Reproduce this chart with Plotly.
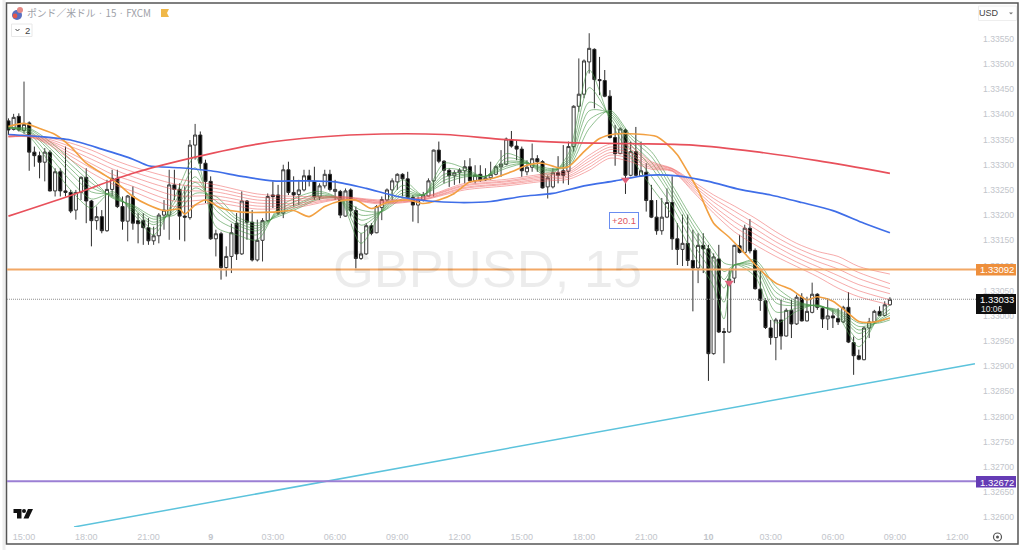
import plotly.graph_objects as go

# Prices are stored as points above 1.33000 (1 point = 0.00001)
BASE = 1.33
POINT = 1e-5

bar_index = list(range(-3, 168))
opens_pts = [387,370,396,368,383,325,318,305,325,248,286,248,245,210,245,275,228,189,197,169,251,273,217,188,237,189,189,175,149,159,200,200,260,251,198,195,339,359,303,267,153,163,96,118,184,123,228,186,111,150,189,240,240,204,290,245,241,250,278,267,236,258,281,247,247,
198,250,209,114,123,179,165,215,230,250,266,281,272,235,220,230,238,268,329,307,289,278,284,288,296,268,281,270,274,281,296,301,350,337,331,286,295,312,306,256,256,284,288,287,336,416,440,504,529,469,467,436,354,322,369,279,326,278,
285,229,196,169,196,225,153,132,144,110,95,140,133,-75,113,-31,-32,75,139,126,174,130,53,30,-24,-43,-8,-40,11,-16,37,-10,7,43,15,-6,0,-5,-12,17,-53,-79,-87,-24,-12,9,1,22]
highs_pts = [392,401,402,465,386,336,326,333,329,293,293,336,250,250,277,293,230,217,210,270,290,290,237,240,257,204,204,194,177,204,230,290,290,263,257,349,381,366,310,277,171,167,138,183,204,247,230,210,191,194,243,267,260,300,306,277,270,290,290,296,263,290,290,270,250,
253,253,217,164,184,184,220,237,253,273,283,283,286,240,237,246,273,330,346,309,293,289,293,309,313,299,299,293,306,299,329,354,367,349,336,309,342,319,309,279,293,317,339,346,418,511,509,561,531,514,488,448,379,374,372,346,375,346,
303,260,230,234,253,277,184,201,201,171,164,164,141,124,141,-24,91,141,161,181,192,134,91,35,-8,-4,32,15,32,42,45,38,66,45,19,35,12,15,20,47,-41,-67,-21,-4,12,19,29,37]
lows_pts = [359,368,366,362,288,296,273,267,247,237,237,237,204,191,230,184,138,171,164,167,237,214,171,148,171,144,141,141,141,144,171,151,230,151,148,191,310,290,224,151,118,72,78,85,111,121,151,108,108,108,187,214,200,194,240,217,220,247,257,230,230,253,247,230,194,
197,197,94,111,121,160,164,190,227,230,250,237,233,187,184,227,237,237,303,263,256,260,263,263,264,263,266,268,270,279,276,299,334,309,276,279,286,286,253,233,253,263,263,260,326,405,432,481,412,438,434,352,298,321,242,277,277,276,
207,194,161,161,194,131,101,99,99,9,65,85,-129,-77,-34,-94,-34,65,124,124,124,52,10,-26,-57,-88,-67,-41,-44,-18,-11,-11,5,12,-24,-28,-24,-18,-14,-54,-117,-88,-88,-44,-14,-1,-1,20]
closes_pts = [369,394,369,380,325,318,305,325,248,286,248,245,208,245,275,228,189,197,169,251,273,217,188,238,184,183,175,149,159,200,210,260,251,198,196,339,359,303,267,153,163,96,118,165,123,228,186,111,150,189,237,237,204,290,245,240,250,278,268,236,258,281,251,251,200,
248,209,114,123,179,164,217,231,250,268,281,272,235,220,230,240,268,329,307,289,278,284,289,296,268,279,270,274,281,296,301,351,337,331,288,295,312,306,254,274,284,279,279,336,416,440,506,531,469,467,436,354,322,371,279,326,279,288,
229,196,169,196,225,153,132,144,110,95,140,133,-75,117,-32,-33,73,140,126,174,129,54,31,-23,-43,-8,-40,11,-16,37,-10,9,43,17,-6,0,-4,-12,17,-52,-79,-86,-24,-12,9,1,22,33]

slow_red_index = [-3,9,21,33,45,57,69,81,93,105,117,129,141,153,167]
slow_red_pts = [198,239,283,315,341,355,361,360,350,344,342,339,326,308,283]

blue_index = [-3,3,9,15,21,24,30,36,42,48,54,60,66,72,78,84,90,96,102,108,114,120,126,132,138,144,150,156,162,167]
blue_pts = [360,356,349,331,311,298,294,288,277,268,268,266,253,237,228,225,227,237,243,258,268,279,278,267,251,240,225,209,184,165]

orange_index = [-3,0,3,6,9,12,15,18,21,24,27,30,31,33,35,38,42,48,52,55,58,61,64,67,70,74,77,80,83,86,90,94,97,100,103,105,108,111,114,118,122,124,126,128,130,133,136,139,142,145,148,151,153,156,159,161,164,167]
orange_pts = [376,382,372,360,336,303,283,263,237,220,209,212,202,220,230,214,206,206,209,197,217,228,230,213,225,230,223,230,243,266,272,286,299,303,294,296,326,352,361,361,356,341,320,286,250,184,156,124,91,65,52,32,38,29,5,-11,-12,-4]

green_index = [-3,1,5,9,13,17,21,25,29,33,37,41,45,49,53,57,61,65,69,73,77,81,85,89,93,97,101,105,109,113,117,121,125,129,133,135,137,141,145,149,153,157,161,165,167]
green_1 = [377,356,303,250,214,247,204,161,234,316,177,161,151,214,237,247,230,144,210,270,240,303,293,276,322,306,276,322,488,389,316,256,200,124,58,-6,101,78,-14,9,22,-1,-61,2,22]
green_2 = [376,361,316,268,232,243,209,172,224,294,195,172,161,209,230,243,231,164,209,259,240,291,288,276,313,305,281,314,453,395,329,277,218,144,80,27,101,88,8,15,21,3,-47,-3,13]
green_3 = [374,365,327,283,246,240,213,181,215,276,210,181,169,205,224,239,232,180,208,250,240,281,284,277,306,304,285,308,424,399,340,295,233,161,98,55,101,96,26,20,20,6,-35,-7,6]
green_4 = [374,367,333,292,255,238,215,186,210,265,219,186,174,202,221,237,232,190,208,244,240,275,281,277,302,304,288,304,407,402,346,305,242,171,109,72,101,101,36,23,20,8,-28,-9,1]
green_5 = [373,370,340,301,264,236,218,192,205,254,228,192,179,200,217,234,233,200,207,239,240,269,279,277,297,303,290,300,389,405,353,316,251,181,120,88,101,106,47,26,19,10,-21,-12,-4]
green_6 = [372,372,346,310,273,234,220,197,200,243,237,197,184,197,214,232,233,210,207,233,240,263,276,277,293,303,293,296,372,408,359,326,260,191,131,105,101,111,58,29,19,12,-14,-14,-8]

fan_index = [-3,1,5,9,13,17,21,29,37,45,53,61,69,77,85,93,101,105,109,113,117,121,125,129,133,137,141,145,149,153,157,161,167]
fan_1 = [357,359,353,343,329,311,296,273,260,242,237,237,230,236,263,271,283,289,319,341,336,306,293,267,240,218,194,167,144,128,118,98,83]
fan_2 = [357,358,350,336,320,301,286,262,253,236,233,236,228,235,260,268,280,285,313,335,330,303,292,263,233,208,183,157,135,118,105,86,64]
fan_3 = [356,358,347,330,311,292,276,251,246,230,229,235,227,234,258,266,277,282,307,330,324,300,291,259,226,198,173,147,126,108,93,74,54]
fan_4 = [356,356,345,323,302,281,267,239,238,224,224,233,225,232,255,263,274,278,301,324,318,297,289,255,218,187,162,138,116,98,80,62,44]
fan_5 = [355,356,342,317,293,272,257,228,231,218,220,232,224,231,253,261,271,275,295,319,312,294,288,251,211,177,152,128,107,88,68,50,32]
fan_6 = [355,355,339,310,284,262,247,217,224,212,216,231,222,230,250,258,268,271,289,313,306,291,287,247,204,167,141,118,98,78,55,38,22]

trend_index = [9.64, 183.4]
trend_pts = [-419, -95]

signal_index = [116, 136]
signal_pts = [270, 66]
signal_label = "+20.1"
signal_label_index = 115.7
signal_label_pts = 189

resistance = 1.33092
support = 1.32672
last_price = 1.33033
countdown = "10:06"

x_tick_vals = [0,12,24,36,48,60,72,84,96,108,120,132,144,156,168,180]
x_tick_text = ["15:00","18:00","21:00","<b>9</b>","03:00","06:00","09:00","12:00","15:00","18:00","21:00","<b>10</b>","03:00","06:00","09:00","12:00"]
y_tick_vals = [1.326,1.3265,1.327,1.3275,1.328,1.3285,1.329,1.3295,1.33,1.3305,1.331,1.3315,1.332,1.3325,1.333,1.3335,1.334,1.3345,1.335,1.3355]
y_tick_text = ["%.5f" % v for v in y_tick_vals]

title_text = "ポンド／米ドル · 15 · FXCM"
watermark = "GBPUSD, 15"

assert all(len(a) == len(bar_index) for a in (opens_pts, highs_pts, lows_pts, closes_pts)), [len(a) for a in (opens_pts, highs_pts, lows_pts, closes_pts)]

def price(a):
    return [BASE + v * POINT for v in a]

# Layout geometry (pixels in the 1024x550 page)
PL, PR, PT, PB = 7, 976, 4, 527
def px(x): return (x - PL) / (PR - PL)
def py(y): return (PB - y) / (PB - PT)

fig = go.Figure()
fig.add_trace(go.Candlestick(
    x=bar_index, open=price(opens_pts), high=price(highs_pts), low=price(lows_pts), close=price(closes_pts),
    increasing=dict(line=dict(color="#3a3a3a", width=1), fillcolor="#ffffff"),
    decreasing=dict(line=dict(color="#2a2a2a", width=1), fillcolor="#000000"),
    whiskerwidth=0, showlegend=False, hoverinfo="skip"))

for g in (green_6, green_5, green_4, green_3, green_2, green_1):
    fig.add_trace(go.Scatter(x=green_index, y=price(g), mode="lines", showlegend=False, hoverinfo="skip",
                             line=dict(color="rgba(76,153,76,0.62)", width=1, shape="spline", smoothing=0.8)))
for f in (fan_1, fan_2, fan_3, fan_4, fan_5, fan_6):
    fig.add_trace(go.Scatter(x=fan_index, y=price(f), mode="lines", showlegend=False, hoverinfo="skip",
                             line=dict(color="rgba(238,100,100,0.55)", width=1, shape="spline", smoothing=0.8)))
fig.add_trace(go.Scatter(x=orange_index, y=price(orange_pts), mode="lines", showlegend=False, hoverinfo="skip",
                         line=dict(color="#f2a041", width=1.6, shape="spline", smoothing=0.7)))
fig.add_trace(go.Scatter(x=blue_index, y=price(blue_pts), mode="lines", showlegend=False, hoverinfo="skip",
                         line=dict(color="#3f6ee8", width=1.7, shape="spline", smoothing=0.7)))
fig.add_trace(go.Scatter(x=slow_red_index, y=price(slow_red_pts), mode="lines", showlegend=False, hoverinfo="skip",
                         line=dict(color="#e8505b", width=1.7, shape="spline", smoothing=0.9)))
fig.add_trace(go.Scatter(x=trend_index, y=price(trend_pts), mode="lines", showlegend=False, hoverinfo="skip",
                         line=dict(color="#5cc3dc", width=1.5)))
fig.add_trace(go.Scatter(x=signal_index, y=price(signal_pts), mode="markers", showlegend=False, hoverinfo="skip",
                         marker=dict(symbol="triangle-down", size=8, color="#e0607a")))

def rect(x0, y0, x1, y1, fill=None, line=None, width=1, layer="above"):
    return dict(type="rect", xref="paper", yref="paper", x0=px(x0), x1=px(x1), y0=py(y0), y1=py(y1),
                fillcolor=fill or "rgba(0,0,0,0)", line=dict(color=line or "rgba(0,0,0,0)", width=width if line else 0), layer=layer)
def path(points, fill=None, line=None, width=1, close=True):
    d = "M " + " L ".join("%.5f,%.5f" % (px(a), py(b)) for a, b in points) + (" Z" if close else "")
    return dict(type="path", xref="paper", yref="paper", path=d,
                fillcolor=fill or "rgba(0,0,0,0)", line=dict(color=line or "rgba(0,0,0,0)", width=width if line else 0), layer="above")
def circle(cx, cy, r, fill=None, line=None, width=1):
    return dict(type="circle", xref="paper", yref="paper", x0=px(cx-r), x1=px(cx+r), y0=py(cy+r), y1=py(cy-r),
                fillcolor=fill or "rgba(0,0,0,0)", line=dict(color=line or "rgba(0,0,0,0)", width=width if line else 0), layer="above")

shapes = [
    rect(2.5, 0, 5.5, 550, fill="#eeeeee", layer="below"),
    rect(6.5, 3, 1018, 544, fill="#ffffff", line="#555555", width=1.5, layer="below"),
    dict(type="line", xref="paper", yref="y", x0=0, x1=1, y0=last_price, y1=last_price, layer="above",
         line=dict(color="#8f8f8f", width=1, dash="1px,1px")),
    dict(type="line", xref="paper", yref="y", x0=0, x1=1, y0=resistance, y1=resistance, layer="above",
         line=dict(color="#f2a866", width=2)),
    dict(type="line", xref="paper", yref="y", x0=0, x1=1, y0=support, y1=support, layer="above",
         line=dict(color="#9b7fd4", width=2)),
    rect(976, 264, 1016, 275.5, fill="#ee8f3c"),
    rect(976, 294, 1016, 314, fill="#0f0f0f"),
    rect(976, 476, 1016, 487.5, fill="#653cb5"),
    # currency box, indicator count box
    rect(978.5, 6, 1016.5, 20.5, fill="#ffffff", line="#eeeeee"),
    rect(11.5, 24, 32, 36.5, fill="#ffffff", line="#e8e8e8"),
    path([(15.5, 29), (17.5, 31), (19.5, 29)], line="#444444", width=1, close=False),
    path([(1009, 12.5), (1013, 12.5), (1011, 14.5)], fill="#777777"),
    # flag icon
    circle(17, 15, 5, fill="#5a6fc0"),
    circle(15, 16, 2.4, fill="#e2574c"),
    circle(20, 10, 3, fill="#e58a86"),
    # bookmark
    path([(161, 9), (169, 9), (167, 13), (169, 17), (161, 17)], fill="#f0b849"),
    # logo
    path([(13.5, 509), (21.5, 509), (21.5, 518.5), (17, 518.5), (17, 513), (13.5, 513)], fill="#111111"),
    circle(24, 511, 2, fill="#111111"),
    path([(28, 509), (33, 509), (28.5, 518.5), (23.5, 518.5)], fill="#111111"),
    # settings icon
    circle(997.5, 537, 4, line="#555555", width=1.2),
    circle(997.5, 537, 1.5, fill="#555555"),
]

def note(x, y, text, size=9.5, color="#b9bcc4", family="Liberation Sans", anchor="center", **kw):
    return dict(xref="paper", yref="paper", x=px(x), y=py(y), text=text, showarrow=False,
                font=dict(size=size, color=color, family=family), xanchor=anchor, yanchor="middle", **kw)

annotations = [
    note(487, 268, watermark, size=52.5, color="rgba(0,0,0,0.075)", family="Liberation Sans"),
    note(25, 13, title_text, size=9.8, color="#9ea1a8", family="Noto Sans CJK JP", anchor="left"),
    note(27, 30.5, "2", size=9.5, color="#444444"),
    note(989, 13.5, "USD", size=9, color="#444444"),
    note(996.5, 269.5, "1.33092", size=9.5, color="#ffffff"),
    note(996.5, 299.5, "1.33033", size=9.5, color="#ffffff"),
    note(992, 309, countdown, size=8.5, color="#e0e0e0"),
    note(996.5, 482, "1.32672", size=9.5, color="#ffffff"),
    dict(x=signal_label_index, y=BASE + signal_label_pts * POINT, xref="x", yref="y", text=signal_label, showarrow=False,
         font=dict(size=9.5, color="#e0555f", family="Liberation Sans"), bgcolor="#ffffff",
         bordercolor="#6a8df0", borderwidth=1, borderpad=2),
]

fig.update_layout(
    width=1024, height=550, margin=dict(l=PL, r=1024 - PR, t=PT, b=550 - PB),
    paper_bgcolor="#ffffff", plot_bgcolor="rgba(0,0,0,0)", showlegend=False, shapes=shapes, annotations=annotations,
    boxgap=0.15,
    xaxis=dict(range=[-3.28, 183.6], tickmode="array", tickvals=x_tick_vals, ticktext=x_tick_text, showgrid=False, zeroline=False,
               showline=False, ticks="", ticklabelstandoff=3, tickfont=dict(size=9, color="#c2c5cb", family="Liberation Sans"),
               rangeslider=dict(visible=False), fixedrange=True),
    yaxis=dict(range=[1.32581, 1.33619], side="right", tickmode="array", tickvals=y_tick_vals, ticktext=y_tick_text, showgrid=False,
               zeroline=False, showline=False, ticks="", ticklabelstandoff=6, tickfont=dict(size=8.6, color="#c2c5cb", family="Liberation Sans"),
               fixedrange=True),
)
fig.write_html("out.html", config=dict(displayModeBar=False),
               post_script="document.body.style.margin='0';document.body.style.overflow='hidden';")
